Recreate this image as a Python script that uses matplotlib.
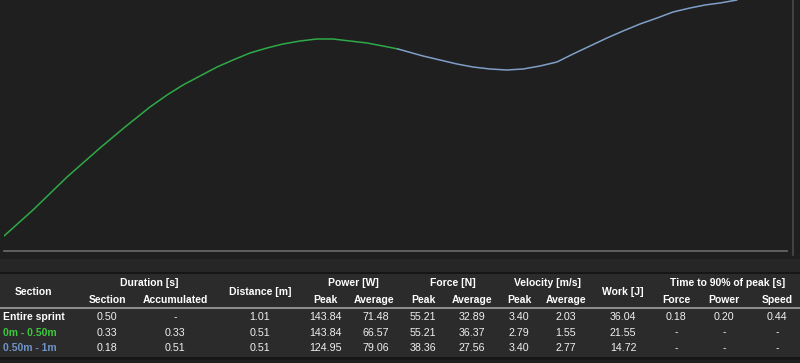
import matplotlib.pyplot as plt
from matplotlib.patches import Rectangle

# curve (distance in m, value in arbitrary units)
dist_m = [0.0000, 0.0374, 0.0813, 0.1238, 0.1561, 0.1883, 0.2103, 0.2309, 0.2528,
          0.2748, 0.2954, 0.3173, 0.3392, 0.3599, 0.3818, 0.4037, 0.4244, 0.4463,
          0.4683, 0.4889, 0.5082, 0.5405, 0.5624, 0.5843, 0.6050, 0.6269, 0.6488,
          0.6695, 0.6914, 0.7133, 0.7340, 0.7559, 0.7778, 0.7985, 0.8204, 0.8424,
          0.8630, 0.8849, 0.9043, 0.9236, 0.9455]
value = [15, 41, 74, 103, 124, 144, 156, 166, 175, 184,
         191, 198, 203, 207, 210, 212, 212, 210, 208, 205,
         202, 195, 191, 187, 184, 182, 181, 182, 185, 189,
         197, 205, 213, 220, 227, 233, 239, 243, 246, 248, 251]
split_m = 0.51

row_labels = ["Entire sprint", "0m - 0.50m", "0.50m - 1m"]
row_colors = ["#ffffff", "#3cc83c", "#6f93c8"]
dur_section = ["0.50", "0.33", "0.18"]
dur_accum = ["-", "0.33", "0.51"]
distance = ["1.01", "0.51", "0.51"]
power_peak = ["143.84", "143.84", "124.95"]
power_avg = ["71.48", "66.57", "79.06"]
force_peak = ["55.21", "55.21", "38.36"]
force_avg = ["32.89", "36.37", "27.56"]
vel_peak = ["3.40", "2.79", "3.40"]
vel_avg = ["2.03", "1.55", "2.77"]
work = ["36.04", "21.55", "14.72"]
t90_force = ["0.18", "-", "-"]
t90_power = ["0.20", "-", "-"]
t90_speed = ["0.44", "-", "-"]

W, H = 800, 363
fig = plt.figure(figsize=(W / 100, H / 100), dpi=100, facecolor="#1f1f1f")
plt.rcParams["font.family"] = ["Liberation Sans", "DejaVu Sans"]

# background axes in pixel coordinates for table and decorations
bg = fig.add_axes([0, 0, 1, 1])
bg.set_xlim(0, W)
bg.set_ylim(H, 0)
bg.axis("off")
bg.add_patch(Rectangle((0, 259), W, 13, color="#262626", lw=0))
bg.add_patch(Rectangle((0, 272), W, 2, color="#161616", lw=0))
bg.add_patch(Rectangle((0, 274), W, 83, color="#2b2b2b", lw=0))
bg.add_patch(Rectangle((0, 307), W, 1.5, color="#8c8c8c", lw=0))
bg.add_patch(Rectangle((0, 357), W, 3, color="#171717", lw=0))
bg.plot([4, 787], [251, 251], color="#6b6b6b", lw=1.2)
bg.plot([793, 793], [0, 255], color="#4a4a4a", lw=1.2)

# chart
ax = fig.add_axes([4 / W, 1 - 251 / H, 783 / W, 251 / H])
ax.set_facecolor("none")
ax.set_xlim(0, 1.01)
ax.set_ylim(0, 251)
ax.axis("off")
n_green = len([d for d in dist_m if d <= split_m])
ax.plot(dist_m[:n_green], value[:n_green], color="#2eaa48", lw=1.1,
        solid_capstyle="round", solid_joinstyle="round")
ax.plot(dist_m[n_green - 1:], value[n_green - 1:], color="#7f9fc8", lw=1.1,
        solid_capstyle="round", solid_joinstyle="round")

# table text
fs = 7.5
hdr = dict(color="white", fontsize=fs, fontweight="bold", ha="center", va="center")
bg.text(33, 292, "Section", **hdr)
bg.text(149, 283, "Duration [s]", **hdr)
bg.text(260, 292, "Distance [m]", **hdr)
bg.text(353, 283, "Power [W]", **hdr)
bg.text(453, 283, "Force [N]", **hdr)
bg.text(547, 283, "Velocity [m/s]", **hdr)
bg.text(623, 292, "Work [J]", **hdr)
bg.text(728, 283, "Time to 90% of peak [s]", **hdr)

sub_x = [107, 175, 325, 374, 423, 472, 519, 566, 676, 724, 777]
sub_lbl = ["Section", "Accumulated", "Peak", "Average", "Peak", "Average",
           "Peak", "Average", "Force", "Power", "Speed"]
for x, s in zip(sub_x, sub_lbl):
    bg.text(x, 300, s, **hdr)

cols = [(107, dur_section), (175, dur_accum), (260, distance), (325, power_peak),
        (376, power_avg), (423, force_peak), (472, force_avg), (519, vel_peak),
        (566, vel_avg), (623, work), (676, t90_force), (724, t90_power),
        (777, t90_speed)]
row_y = [317, 332.5, 348]
for i, y in enumerate(row_y):
    bg.text(3, y, row_labels[i], color=row_colors[i], fontsize=fs,
            fontweight="bold", ha="left", va="center")
    for x, vals in cols:
        bg.text(x, y, vals[i], color="#f0f0f0", fontsize=fs + 0.2,
                ha="center", va="center")

fig.savefig("out.png", dpi=100, facecolor=fig.get_facecolor())
